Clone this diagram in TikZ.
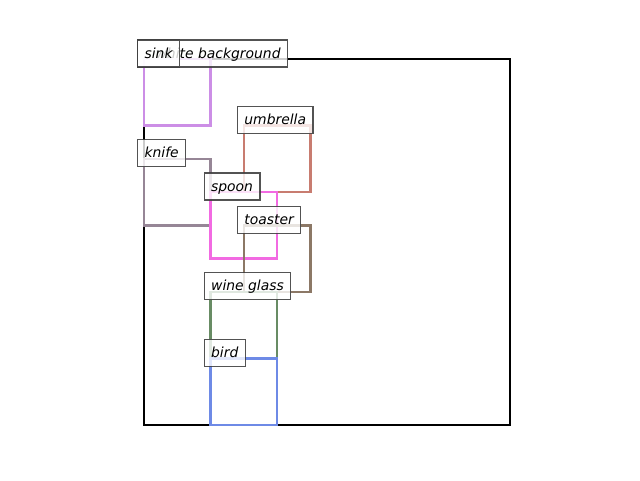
\documentclass[tikz,border=0pt]{standalone}
\usepackage{fontspec}
\setmainfont{DejaVu Sans}
\begin{document}
\begin{tikzpicture}[x=1pt,y=-1pt,
  obox/.style={line width=2.5pt},
  lbl/.style={anchor=base west, draw=black!75, draw opacity=0.9, fill=white, fill opacity=0.8, text opacity=1,
    inner xsep=7pt, inner ysep=7pt, text height=11pt, text depth=2pt, line width=1.2pt,
    font=\fontsize{13.9}{16}\selectfont\itshape}]
\useasboundingbox (0,0) rectangle (640,480);
\definecolor{csink}{RGB}{204,142,230}
\definecolor{cumb}{RGB}{200,124,112}
\definecolor{cknife}{RGB}{150,134,150}
\definecolor{cspoon}{RGB}{242,106,226}
\definecolor{ctoast}{RGB}{140,120,102}
\definecolor{cwine}{RGB}{104,140,100}
\definecolor{cbird}{RGB}{110,138,230}
\def\u{33.27}
% rectangles
\draw[line width=2.2pt,black] (144,59) coordinate (bg) rectangle (510,425);
\draw[obox,csink] (144,59) coordinate (sk) rectangle +(2*\u,2*\u);
\draw[obox,cumb] (144+3*\u,59+2*\u) coordinate (um) rectangle +(2*\u,2*\u);
\draw[obox,cknife] (144,59+3*\u) coordinate (kn) rectangle +(2*\u,2*\u);
\draw[obox,cspoon] (144+2*\u,59+4*\u) coordinate (sp) rectangle +(2*\u,2*\u);
\draw[obox,ctoast] (144+3*\u,59+5*\u) coordinate (to) rectangle +(2*\u,2*\u);
\draw[obox,cwine] (144+2*\u,59+7*\u) coordinate (wg) rectangle +(2*\u,2*\u);
\draw[obox,cbird] (144+2*\u,59+9*\u) coordinate (bd) rectangle +(2*\u,2*\u);
% labels
\node[lbl] (Lbg) at ([shift={(-7,-1)}]bg) {\hspace*{11pt}white background};
\node[lbl] (Lsk) at ([shift={(-7,-1)}]sk) {sink};
\node[lbl] (Lum) at ([shift={(-7,-1)}]um) {umbrella};
\node[lbl] (Lkn) at ([shift={(-7,-1)}]kn) {knife};
\node[lbl] (Lsp) at ([shift={(-7,-1)}]sp) {spoon};
\node[lbl] (Lto) at ([shift={(-7,-1)}]to) {toaster};
\node[lbl] (Lwg) at ([shift={(-7,-1)}]wg) {wine glass};
\node[lbl] (Lbd) at ([shift={(-7,-1)}]bd) {bird};
\end{tikzpicture}
\end{document}
